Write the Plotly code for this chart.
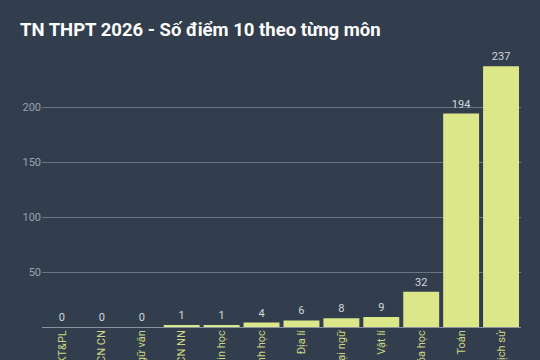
import plotly.graph_objects as go

categories = ["GD KT&PL", "CN CN", "Ngữ văn", "CN NN", "Tin học", "Sinh học",
              "Địa lí", "Ngoại ngữ", "Vật lí", "Hóa học", "Toán", "Lịch sử"]
values = [0, 0, 0, 1, 1, 4, 6, 8, 9, 32, 194, 237]
y_ticks = [50, 100, 150, 200]

BG = "#323e4e"
BAR = "#dbe788"

fig = go.Figure(go.Bar(
    x=categories, y=values,
    marker=dict(color=BAR, line=dict(width=0)),
    text=[str(v) for v in values],
    textposition="outside",
    textfont=dict(family="Roboto", size=11, color="#d3d8de"),
    cliponaxis=False,
))

fig.update_layout(
    width=540, height=360,
    paper_bgcolor=BG, plot_bgcolor=BG,
    margin=dict(l=42, r=19, t=52, b=33, autoexpand=False),
    bargap=0.1,
    showlegend=False,
    title=dict(text="<b>TN THPT 2026 - Số điểm 10 theo từng môn</b>",
               x=20/540, xanchor="left", y=1-30/360, yanchor="middle",
               font=dict(family="Roboto", size=18.5, color="#ffffff")),
    font=dict(family="Roboto"),
)
fig.update_xaxes(
    tickangle=-90, automargin=False,
    tickfont=dict(family="Roboto", size=11, color="#cdd77f"),
    showgrid=False, showline=False, ticks="",
)
fig.update_yaxes(
    range=[0, 250], tickvals=y_ticks, automargin=False,
    tickfont=dict(family="Roboto", size=11, color="#9aa2ad"),
    showgrid=True, gridcolor="#6c7582", gridwidth=1,
    zeroline=True, zerolinecolor="#8b939d", zerolinewidth=1,
    ticks="", showline=False,
)

fig.write_html("out.html")
